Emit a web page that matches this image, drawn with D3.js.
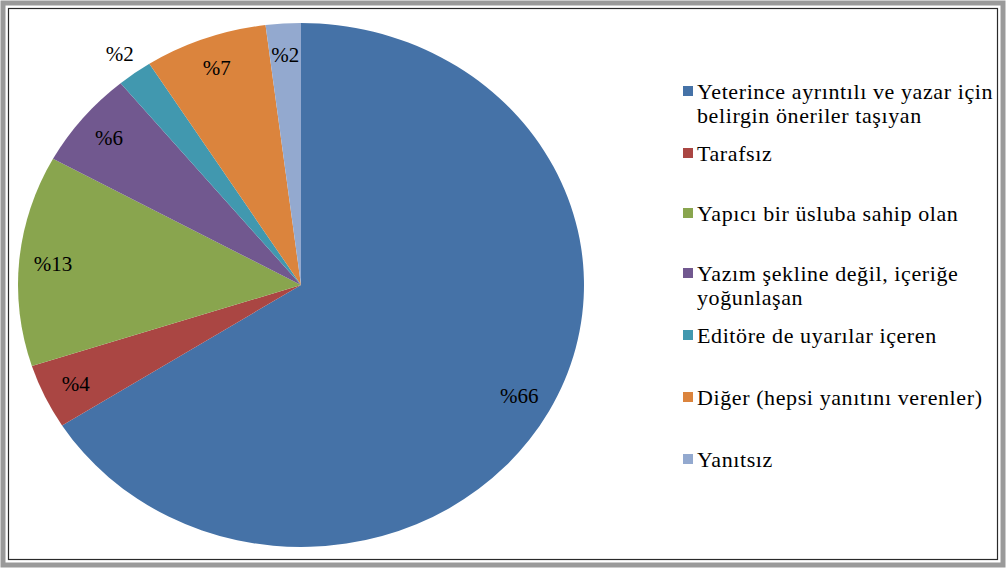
<!DOCTYPE html>
<html>
<head>
<meta charset="utf-8">
<script src="https://cdn.jsdelivr.net/npm/d3@7"></script>
<style>
  body { margin: 0; background: #fff; }
  svg { display: block; }
  text { font-family: "Liberation Serif", "DejaVu Serif", serif; }
</style>
</head>
<body>
<div id="chart"></div>
<script>
// Slice labels, shares (%) and colours, clockwise from 12 o'clock
const categories = [
  "Yeterince ayrıntılı ve yazar için|belirgin öneriler taşıyan",
  "Tarafsız",
  "Yapıcı bir üsluba sahip olan",
  "Yazım şekline değil, içeriğe|yoğunlaşan",
  "Editöre de uyarılar içeren",
  "Diğer (hepsi yanıtını verenler)",
  "Yanıtsız"
];
const values = [66, 4, 13, 6, 2, 7, 2];
const colors = ["#4572A7", "#AA4643", "#89A54E", "#71588F", "#4198AF", "#DB843D", "#93A9CF"];

const width = 1006, height = 570;
const cx = 301, cy = 285, r = 262, stretchX = 283 / 262;

const svg = d3.select('#chart').append('svg')
    .attr('width', width)
    .attr('height', height);

// Frame
svg.append('rect')
    .attr('x', 3).attr('y', 3).attr('width', 1000).attr('height', 562)
    .attr('fill', 'none').attr('stroke', '#9a9a9a').attr('stroke-width', 5);
svg.append('rect')
    .attr('x', 8.5).attr('y', 8.5).attr('width', 989).attr('height', 551)
    .attr('fill', 'none').attr('stroke', '#2a2a2a').attr('stroke-width', 1.2);

const pie = d3.pie().sort(null).value(d => d);
const arcs = pie(values);
const arc = d3.arc().innerRadius(0).outerRadius(r);

const g = svg.append('g')
    .attr('transform', `translate(${cx},${cy}) scale(${stretchX},1)`);

g.selectAll('path')
    .data(arcs)
    .enter().append('path')
    .attr('d', arc)
    .attr('fill', (d, i) => colors[i]);

// Percentage labels (the crowded small slice sits just outside the rim)
const labelR = i => (i === 4 ? 1.09 : 0.88) * r;
svg.append('g')
    .selectAll('text')
    .data(arcs)
    .enter().append('text')
    .attr('x', (d, i) => cx + Math.sin((d.startAngle + d.endAngle) / 2) * labelR(i) * stretchX)
    .attr('y', (d, i) => cy - Math.cos((d.startAngle + d.endAngle) / 2) * labelR(i))
    .attr('dy', '0.35em')
    .attr('text-anchor', 'middle')
    .style('font-size', '21px')
    .style('fill', '#000')
    .text(d => '%' + d.data);

// Legend
const legendY = [91, 153, 213, 273, 335, 397, 459];
const legend = svg.append('g').attr('class', 'legend');
categories.forEach((c, i) => {
    const item = legend.append('g').attr('transform', `translate(683,${legendY[i]})`);
    item.append('rect')
        .attr('x', 0).attr('y', -5).attr('width', 10).attr('height', 10)
        .attr('fill', colors[i]);
    const t = item.append('text')
        .attr('x', 14)
        .style('font-size', '22px')
        .style('letter-spacing', '0.6px')
        .style('fill', '#000');
    c.split('|').forEach((line, j) => {
        t.append('tspan')
            .attr('x', 14)
            .attr('y', j * 24)
            .attr('dy', '0.35em')
            .text(line);
    });
});
</script>
</body>
</html>
